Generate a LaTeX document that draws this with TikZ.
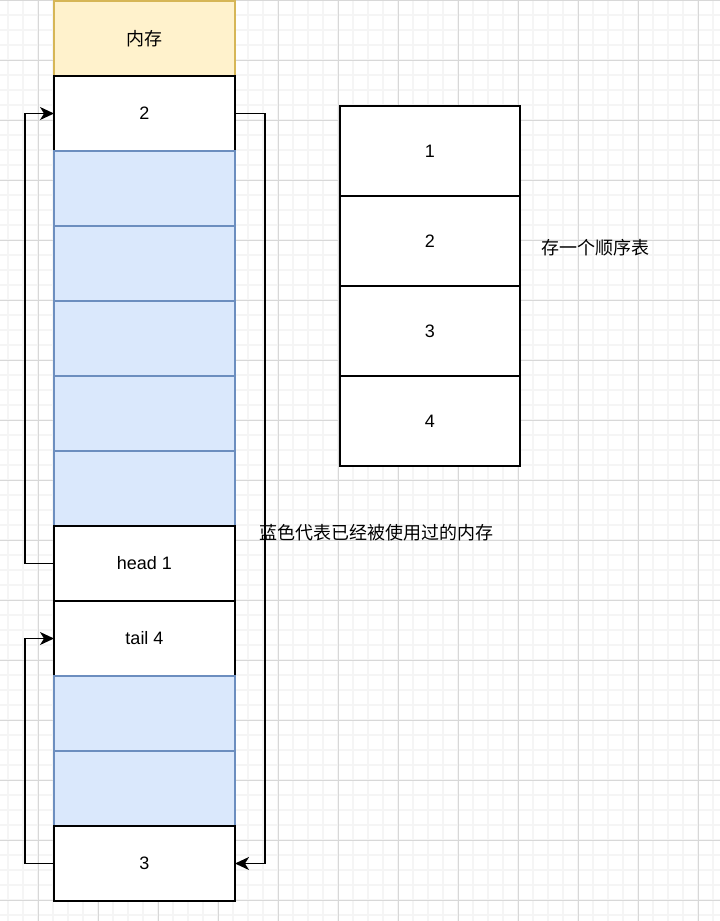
\documentclass[tikz,border=0pt]{standalone}
\usepackage{fontspec}
\setmainfont{Liberation Sans}
\newfontfamily\cjk{Noto Sans CJK SC}
\usetikzlibrary{arrows.meta}
\definecolor{ylwfill}{HTML}{FFF2CC}
\definecolor{ylwline}{HTML}{D6B656}
\definecolor{blufill}{HTML}{DAE8FC}
\definecolor{bluline}{HTML}{6C8EBF}
\definecolor{gridmin}{HTML}{F5F5F5}
\definecolor{gridmaj}{HTML}{D8D8D8}
\tikzset{
  cellbase/.style={rectangle, minimum width=181pt, minimum height=75pt, inner sep=0pt, outer sep=0pt, line width=1.5pt, font=\fontsize{18pt}{21pt}\selectfont},
  memcell/.style={cellbase, draw=black, fill=white},
  usedcell/.style={cellbase, draw=bluline, fill=blufill},
  titlecell/.style={cellbase, draw=ylwline, fill=ylwfill},
  tabcell/.style={cellbase, minimum width=180pt, minimum height=90pt, draw=black, fill=white},
  note/.style={inner sep=0pt, font=\fontsize{18pt}{21pt}\selectfont\cjk},
  arr/.style={line width=1.5pt, -{Stealth[length=14pt 0, width=13pt 0, inset=4pt 0]}},
  gridminor/.style={gridmin, line width=1.5pt},
  gridmajor/.style={gridmaj, line width=1pt}
}
\begin{document}
\begin{tikzpicture}[x=1pt,y=-1pt]
\fill[white] (0,0) rectangle (720,921);
\useasboundingbox (0,0) rectangle (720,921);
% grid
\foreach \gx in {8,23,...,720} \draw[gridminor] (\gx,0) -- (\gx,921);
\foreach \gy in {0,15,...,921} \draw[gridminor] (0,\gy) -- (720,\gy);
\foreach \gx in {38,98,...,720} \draw[gridmajor] (\gx,0) -- (\gx,921);
\foreach \gy in {0,60,...,921} \draw[gridmajor] (0,\gy) -- (720,\gy);
% memory column
\node[titlecell] (mem) at (144.5,38.5) {\cjk 内存};
\node[memcell]  (c2)   at (144.5,113.5) {2};
\node[usedcell] (u1)   at (144.5,188.5) {};
\node[usedcell] (u2)   at (144.5,263.5) {};
\node[usedcell] (u3)   at (144.5,338.5) {};
\node[usedcell] (u4)   at (144.5,413.5) {};
\node[usedcell] (u5)   at (144.5,488.5) {};
\node[memcell]  (head) at (144.5,563.5) {head 1};
\node[memcell]  (tail) at (144.5,638.5) {tail 4};
\node[usedcell] (u6)   at (144.5,713.5) {};
\node[usedcell] (u7)   at (144.5,788.5) {};
\node[memcell]  (c3)   at (144.5,863.5) {3};
% sequence table
\node[tabcell] (t1) at (430,151) {1};
\node[tabcell] (t2) at (430,241) {2};
\node[tabcell] (t3) at (430,331) {3};
\node[tabcell] (t4) at (430,421) {4};
% notes
\node[note] (n1) at (595,248) {存一个顺序表};
\node[note] (n2) at (376.5,533) {蓝色代表已经被使用过的内存};
% connectors
\draw[arr] (head.west) -- ++(-29,0) |- (c2.west);
\draw[arr] (c2.east) -- ++(30,0) |- (c3.east);
\draw[arr] (c3.west) -- ++(-29,0) |- (tail.west);
\end{tikzpicture}
\end{document}
